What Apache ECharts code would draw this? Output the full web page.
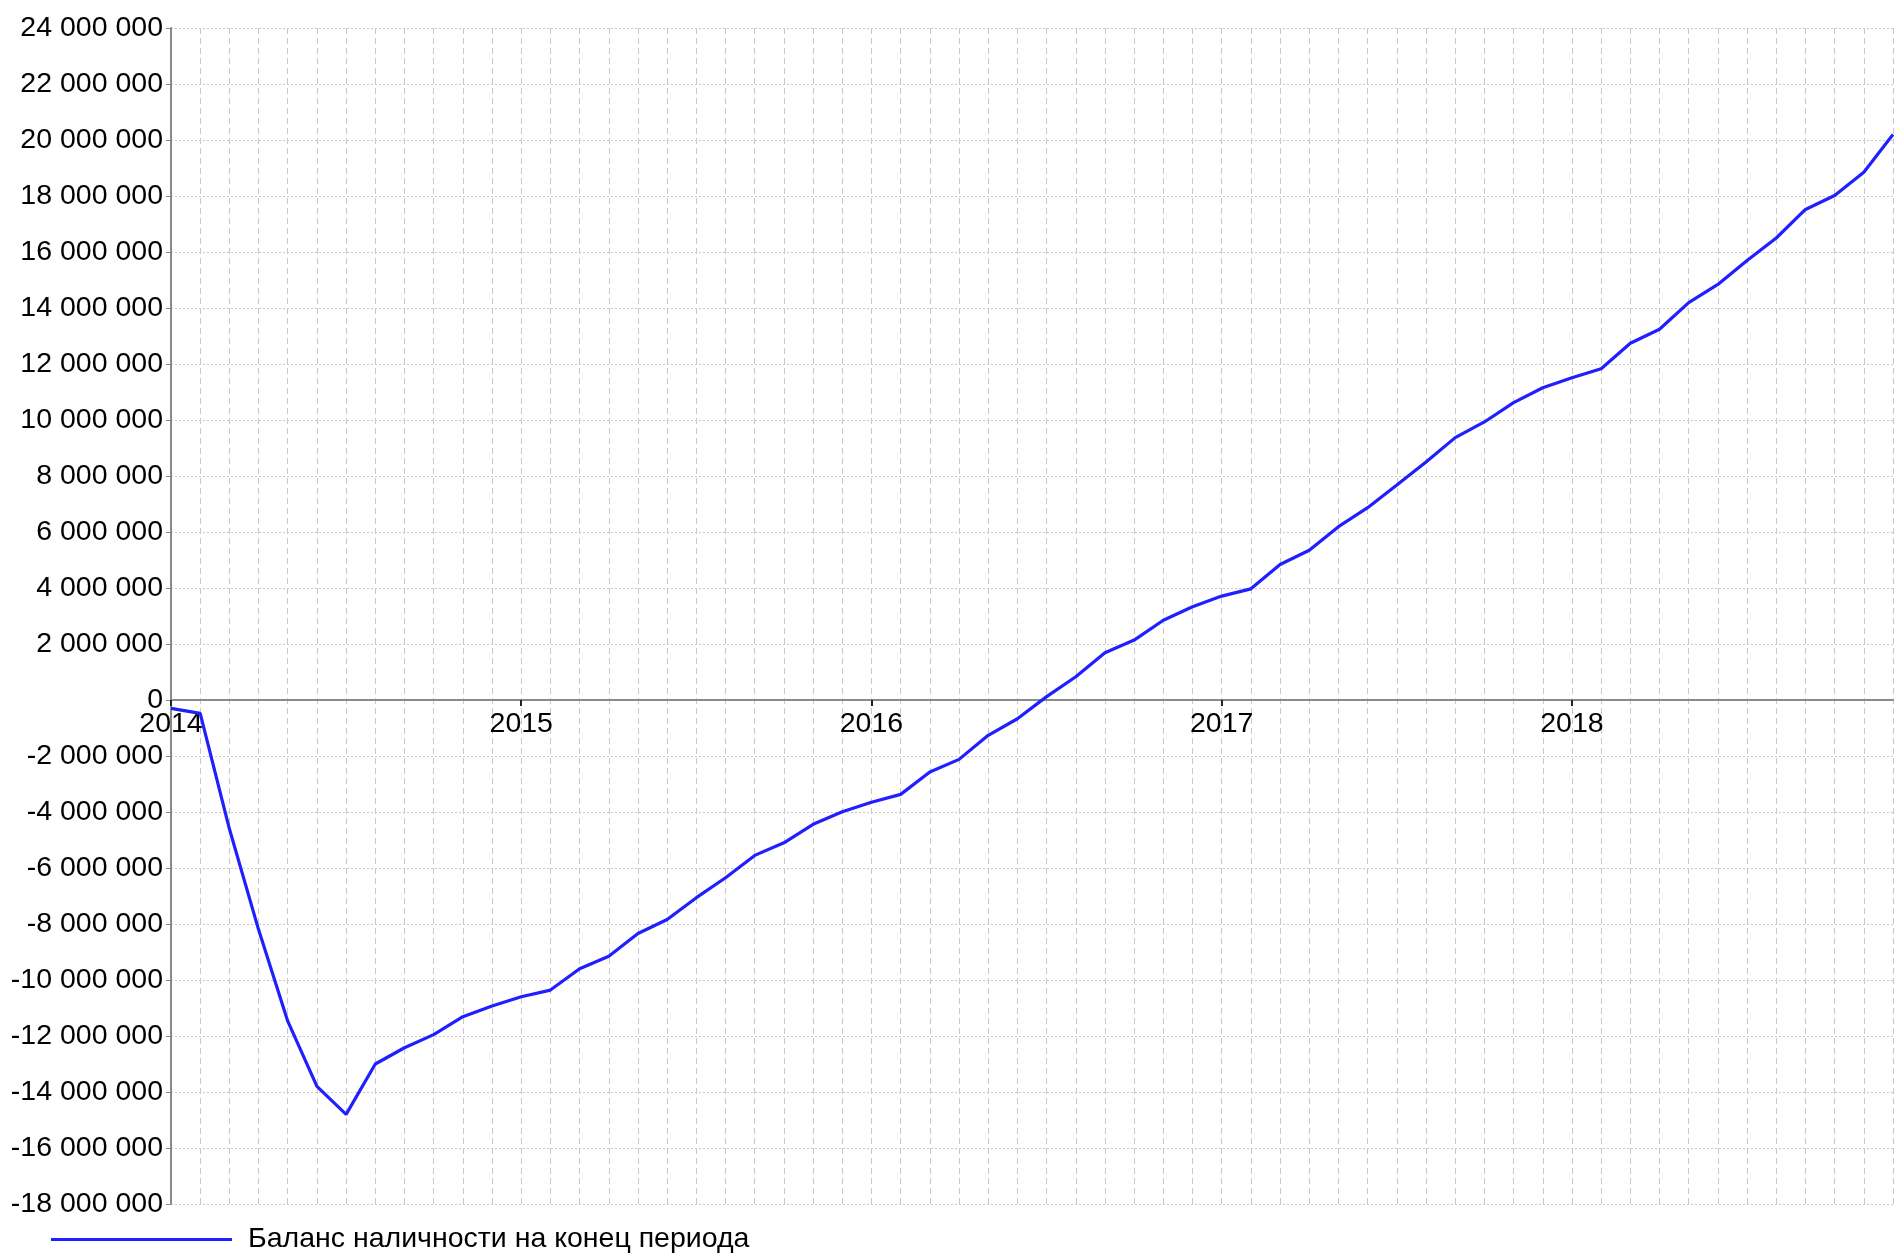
<!DOCTYPE html>
<html>
<head>
<meta charset="utf-8">
<script src="https://cdn.jsdelivr.net/npm/echarts@6/dist/echarts.min.js"></script>
<style>
html,body{margin:0;padding:0;background:#fff;}
#chart{width:1894px;height:1256px;}
</style>
</head>
<body>
<div id="chart"></div>
<script>
// Monthly periods Jan 2014 .. Dec 2018
const years = [2014, 2015, 2016, 2017, 2018];
const months = [];
years.forEach(y => { for (let m = 1; m <= 12; m++) months.push(y + '-' + (m < 10 ? '0' + m : m)); });

const seriesName = 'Баланс наличности на конец периода';
// Cash balance at end of period, millions
const balanceM = [
  -0.30, -0.48, -4.60, -8.20, -11.47, -13.80, -14.80, -13.00, -12.42, -11.95, -11.31, -10.93,
  -10.60, -10.36, -9.60, -9.15, -8.34, -7.84, -7.06, -6.35, -5.55, -5.10, -4.44, -3.99,
  -3.65, -3.37, -2.57, -2.12, -1.26, -0.67, 0.12, 0.83, 1.69, 2.14, 2.85, 3.33,
  3.71, 3.97, 4.84, 5.35, 6.19, 6.87, 7.68, 8.50, 9.37, 9.93, 10.62, 11.15,
  11.51, 11.83, 12.74, 13.24, 14.19, 14.84, 15.70, 16.50, 17.52, 18.02, 18.85, 20.20
];
const balance = balanceM.map(v => Math.round(v * 1e6));

const yMin = -18000000, yMax = 24000000, yStep = 2000000;

function fmt(v) {
  const s = String(Math.abs(v)).replace(/\B(?=(\d{3})+(?!\d))/g, ' ');
  return (v < 0 ? '-' : '') + s;
}

const W = 1894, H = 1256;
const G = {left: 171, right: 1, top: 28, bottom: 52};
const plotH = H - G.top - G.bottom;
// move the category axis (line, ticks, labels) up to the zero level of the value axis
const zeroOffset = -plotH * (0 - yMin) / (yMax - yMin);

const chart = echarts.init(document.getElementById('chart'), null, {renderer: 'canvas', width: W, height: H});
const FONT = 'Liberation Sans, Arial, sans-serif';
chart.setOption({
  animation: false,
  backgroundColor: '#ffffff',
  grid: Object.assign({containLabel: false}, G),
  legend: {
    left: 51, top: 1225, padding: 0,
    itemWidth: 181, itemHeight: 14,
    icon: 'path://M0,0 L180,0 L180,3 L0,3 Z',
    textStyle: {fontFamily: FONT, fontSize: 28.5, color: '#000', padding: [0, 0, 0, 11]},
    data: [seriesName]
  },
  xAxis: {
    type: 'category',
    data: months,
    boundaryGap: false,
    offset: zeroOffset,
    axisLine: {onZero: false, lineStyle: {color: '#8a8a8a', width: 2}},
    axisTick: {show: true, interval: 11, length: 6, inside: false, lineStyle: {color: '#222', width: 2}},
    axisLabel: {
      interval: 11, margin: 10,
      fontFamily: FONT, fontSize: 28.5, color: '#000',
      formatter: v => v.slice(0, 4)
    },
    splitLine: {show: true, interval: 0, lineStyle: {color: '#c8c8c8', type: [6, 4], width: 1}}
  },
  yAxis: {
    type: 'value',
    min: yMin, max: yMax, interval: yStep,
    axisLine: {show: true, lineStyle: {color: '#8a8a8a', width: 2}},
    axisTick: {show: true, length: 5, lineStyle: {color: '#888'}},
    axisLabel: {margin: 8, fontFamily: FONT, fontSize: 28.5, color: '#000', formatter: v => fmt(v)},
    splitLine: {show: true, lineStyle: {color: '#c8c8c8', type: [2, 2], width: 1}}
  },
  series: [{
    name: seriesName,
    type: 'line',
    data: balance,
    symbol: 'none',
    lineStyle: {color: '#1f1fff', width: 3.2},
    itemStyle: {color: '#1f1fff'}
  }]
});
</script>
</body>
</html>
